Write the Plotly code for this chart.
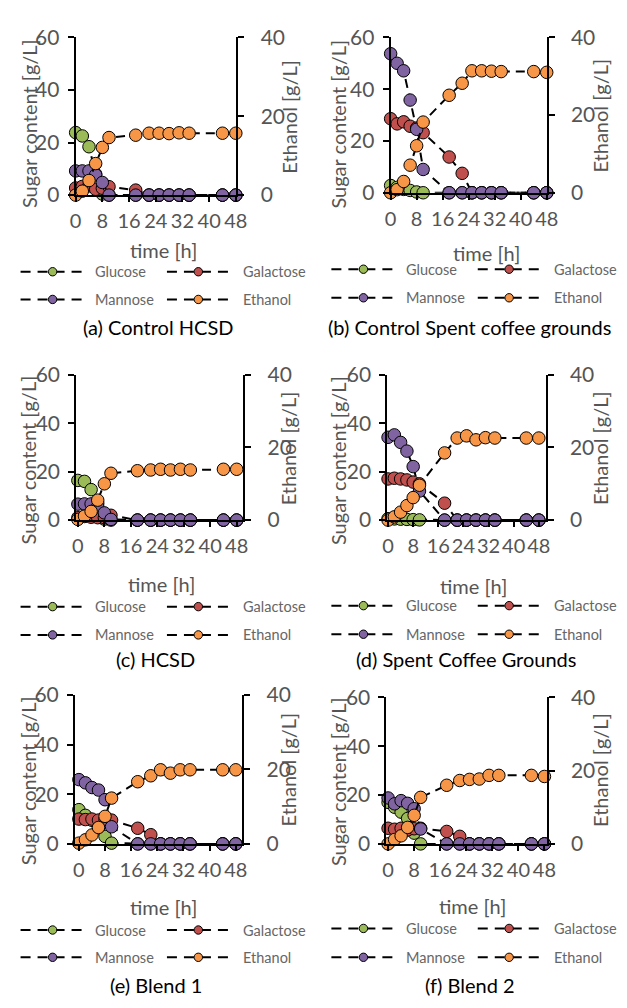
import plotly.graph_objects as go

# ---------------- data ----------------
time_h = [0, 2, 4, 6, 8, 10, 18, 22, 25, 28, 31, 34, 44, 48]

a_glucose   = [23.8, 22.5, 18.4, 8.0, 0.4, 0, 0, 0, 0, 0, 0, 0, 0, 0]
a_galactose = [2.7, 3.3, 3.5, 2.2, 2.6, 3.2, 1.9, 0, 0, 0, 0, 0, 0, 0]
a_mannose   = [9.2, 9.2, 9.2, 7.7, 4.8, 0, 0, 0, 0, 0, 0, 0, 0, 0]
a_ethanol   = [0, 1.0, 3.7, 8.0, 12.1, 14.6, 15.2, 15.7, 15.7, 15.6, 15.8, 15.7, 15.7, 15.7]

b_glucose   = [2.8, 2.1, 1.3, 0.9, 0.3, 0, 0, 0, 0, 0, 0, 0, 0, 0]
b_galactose = [28.6, 26.6, 27.4, 25.7, 25.0, 23.2, 13.8, 7.5, 0, 0, 0, 0, 0, 0]
b_mannose   = [53.7, 50.0, 47.1, 35.8, 24.5, 9.0, 0, 0, 0, 0, 0, 0, 0, 0]
b_ethanol   = [0, 0.8, 2.9, 7.1, 12.1, 18.2, 25.1, 28.2, 31.4, 31.4, 31.3, 31.2, 31.2, 31.0]

c_glucose   = [16.4, 16.0, 12.6, 7.0, 0.4, 0, 0, 0, 0, 0, 0, 0, 0, 0]
c_galactose = [1.0, 1.5, 1.2, 1.0, 1.0, 2.0, 0, 0, 0, 0, 0, 0, 0, 0]
c_mannose   = [6.6, 6.7, 6.7, 5.6, 3.0, 0.3, 0, 0, 0, 0, 0, 0, 0, 0]
c_ethanol   = [0.2, 1.1, 2.4, 5.5, 10.0, 12.9, 13.6, 13.8, 14.0, 13.8, 14.0, 13.8, 14.0, 14.0]

d_glucose   = [0.6, 0.5, 0.4, 0.3, 0.2, 0.1, 0, 0, 0, 0, 0, 0, 0, 0]
d_galactose = [17.0, 17.3, 17.0, 16.6, 15.7, 15.0, 7.0, 0, 0, 0, 0, 0, 0, 0]
d_mannose   = [34.2, 35.2, 32.1, 28.5, 22.1, 12.0, 0, 0, 0, 0, 0, 0, 0, 0]
d_ethanol   = [0, 0.9, 2.2, 4.0, 6.2, 9.6, 18.5, 22.6, 23.2, 22.1, 22.7, 22.6, 22.6, 22.6]

e_glucose   = [13.8, 11.5, 9.5, 6.5, 3.0, 0.3, 0, 0, 0, 0, 0, 0, 0, 0]
e_galactose = [10.0, 9.8, 10.0, 9.6, 9.8, 9.6, 6.3, 3.7, 0, 0, 0, 0, 0, 0]
e_mannose   = [25.9, 24.6, 22.7, 21.7, 17.8, 6.9, 0, 0, 0, 0, 0, 0, 0, 0]
e_ethanol   = [0.2, 1.1, 2.4, 4.4, 7.4, 12.3, 16.7, 18.3, 19.9, 19.0, 19.9, 19.9, 19.9, 19.9]

f_glucose   = [17.0, 15.0, 13.0, 10.4, 4.4, 0, 0, 0, 0, 0, 0, 0, 0, 0]
f_galactose = [6.4, 6.0, 6.4, 5.7, 6.2, 6.4, 5.1, 3.1, 0, 0, 0, 0, 0, 0]
f_mannose   = [18.8, 16.4, 17.7, 16.6, 14.4, 6.1, 0, 0, 0, 0, 0, 0, 0, 0]
f_ethanol   = [0, 1.2, 2.2, 4.5, 7.8, 12.7, 16.0, 17.3, 17.6, 17.7, 18.7, 18.7, 18.7, 18.4]

series_names = ["Glucose", "Galactose", "Mannose", "Ethanol"]
captions = ["(a) Control HCSD", "(b) Control Spent coffee grounds", "(c) HCSD",
            "(d) Spent Coffee Grounds", "(e) Blend 1", "(f) Blend 2"]
x_ticks = [0, 8, 16, 24, 32, 40, 48]
sugar_ticks = [0, 20, 40, 60]
ethanol_ticks = [0, 20, 40]

panel_data = [
    (a_glucose, a_galactose, a_mannose, a_ethanol),
    (b_glucose, b_galactose, b_mannose, b_ethanol),
    (c_glucose, c_galactose, c_mannose, c_ethanol),
    (d_glucose, d_galactose, d_mannose, d_ethanol),
    (e_glucose, e_galactose, e_mannose, e_ethanol),
    (f_glucose, f_galactose, f_mannose, f_ethanol),
]

# ---------------- styling / layout geometry (pixels) ----------------
W, H = 627, 1008
colors = ["#9BBB59", "#C0504D", "#8064A2", "#F79646"]
GRAY = "#555555"
FONT = "Lato"

geom = [
    dict(l=71.7, r=237.3, t=24.0, b=185.7, xr=[0, 48.2],
         sug=(23, 112.5), eth=(291.7, 105), tim=(161.7, 242.3), cap=(156, 321),
         rows=(264.3, 292.7)),
    dict(l=396.0, r=556.7, t=24.0, b=183.3, xr=[0, 48],
         sug=(341.7, 112.5), eth=(611.7, 104), tim=(495, 245), cap=(477.5, 321),
         rows=(261.7, 291.0)),
    dict(l=72.3, r=244.3, t=370.0, b=519.0, xr=[-0.5, 50],
         sug=(23, 457.5), eth=(290.7, 445), tim=(160, 584.3), cap=(154, 661.7),
         rows=(607.7, 636.7)),
    dict(l=392.7, r=555.7, t=370.0, b=519.0, xr=[-0.2, 50.2],
         sug=(341.7, 457.5), eth=(611.7, 445), tim=(481.7, 586.7), cap=(474, 661),
         rows=(606.7, 636.0)),
    dict(l=71.0, r=243.3, t=698.3, b=851.0, xr=[-1.2, 50],
         sug=(22.7, 786.7), eth=(290, 775), tim=(161.7, 916), cap=(154, 996),
         rows=(939.3, 967.3)),
    dict(l=391.7, r=556.7, t=700.7, b=851.0, xr=[-0.5, 48.7],
         sug=(341.7, 786.7), eth=(611.7, 775), tim=(480, 915), cap=(477.5, 996),
         rows=(937.7, 967.3)),
]


def fx(x):
    return x / W


def fy(y):
    return 1 - y / H


fig = go.Figure()
layout = dict(width=W, height=H, autosize=False,
              margin=dict(l=0, r=0, t=0, b=0),
              paper_bgcolor="white", plot_bgcolor="white",
              showlegend=False, font=dict(family=FONT, color=GRAY))
annotations = []
shapes = []

XTICKFONT = dict(size=20, color=GRAY, family=FONT)
YTICKFONT = dict(size=21, color=GRAY, family=FONT)

for k, (g, data) in enumerate(zip(geom, panel_data), start=1):
    xa = f"x{k}"
    yl = f"y{2 * k - 1}"
    yr = f"y{2 * k}"
    xkey = "xaxis" if k == 1 else f"xaxis{k}"
    ylkey = "yaxis" if 2 * k - 1 == 1 else f"yaxis{2 * k - 1}"
    yrkey = f"yaxis{2 * k}"
    dom_x = [fx(g["l"]), fx(g["r"])]
    dom_y = [fy(g["b"]), fy(g["t"])]
    layout[xkey] = dict(domain=dom_x, range=g["xr"], anchor=yl, showline=True,
                        linecolor="black", linewidth=2, ticks="outside", ticklen=5,
                        tickwidth=1.5, tickcolor="black", tickvals=x_ticks,
                        tickangle=0, tickfont=XTICKFONT,
                        ticklabelstandoff=2, showgrid=False, zeroline=False)
    layout[ylkey] = dict(domain=dom_y, range=[0, 60], anchor=xa, showline=True,
                         linecolor="black", linewidth=2, ticks="outside", ticklen=6,
                         tickwidth=1.5, tickcolor="black", tickvals=sugar_ticks,
                         tickfont=YTICKFONT,
                         ticklabelstandoff=4, showgrid=False, zeroline=False)
    layout[yrkey] = dict(domain=dom_y, range=[0, 40], anchor=xa, overlaying=yl,
                         side="right", showline=True, linecolor="black", linewidth=2,
                         ticks="outside", ticklen=6, tickwidth=1.5, tickcolor="black",
                         tickvals=ethanol_ticks, tickfont=YTICKFONT,
                         ticklabelstandoff=12, showgrid=False, zeroline=False)

    for name, vals, col in zip(series_names, data, colors):
        fig.add_trace(go.Scatter(
            x=time_h, y=vals, name=name, mode="lines+markers",
            xaxis=xa, yaxis=(yr if name == "Ethanol" else yl),
            line=dict(color="black", width=2, dash="9px,6px"),
            marker=dict(size=12.5, color=col, line=dict(color="black", width=1)),
            cliponaxis=False, showlegend=False))

    # axis titles
    annotations.append(dict(text="Sugar content [g/L]", x=fx(g["sug"][0]), y=fy(g["sug"][1]),
                            xref="paper", yref="paper", showarrow=False, textangle=-90,
                            xanchor="center", yanchor="middle",
                            font=dict(size=20, color=GRAY, family=FONT)))
    annotations.append(dict(text="Ethanol [g/L]", x=fx(g["eth"][0]), y=fy(g["eth"][1]),
                            xref="paper", yref="paper", showarrow=False, textangle=-90,
                            xanchor="center", yanchor="middle",
                            font=dict(size=20, color=GRAY, family=FONT)))
    annotations.append(dict(text="time [h]", x=fx(g["tim"][0]), y=fy(g["tim"][1]),
                            xref="paper", yref="paper", showarrow=False,
                            xanchor="center", yanchor="middle",
                            font=dict(size=20, color=GRAY, family=FONT)))
    annotations.append(dict(text=captions[k - 1], x=fx(g["cap"][0]), y=fy(g["cap"][1]),
                            xref="paper", yref="paper", showarrow=False,
                            xanchor="center", yanchor="middle",
                            font=dict(size=20, color="black", family=FONT)))

    # custom legend: 2 x 2
    left_panel = g["l"] < 300
    base = 0 if left_panel else 320
    cols_x = [(15 + base, 80 + base, 48 + base, 90 + base),
              (165.7 + base, 230 + base, 198 + base, 242 + base)]
    for i, (name, col) in enumerate(zip(series_names, colors)):
        row, cc = divmod(i, 2)
        yy = g["rows"][row]
        x0, x1, xm, xt = cols_x[cc]
        shapes.append(dict(type="line", xref="paper", yref="paper",
                           x0=fx(x0), x1=fx(x1), y0=fy(yy), y1=fy(yy),
                           line=dict(color="black", width=2, dash="10px,7px")))
        shapes.append(dict(type="circle", xref="paper", yref="paper",
                           xsizemode="pixel", ysizemode="pixel",
                           xanchor=fx(xm), yanchor=fy(yy),
                           x0=-4.2, x1=4.2, y0=-4.2, y1=4.2,
                           fillcolor=col, line=dict(color="black", width=1)))
        annotations.append(dict(text=name, x=fx(xt), y=fy(yy), xref="paper", yref="paper",
                                showarrow=False, xanchor="left", yanchor="middle",
                                font=dict(size=14.5, color="#666666", family=FONT)))

layout["annotations"] = annotations
layout["shapes"] = shapes
fig.update_layout(**layout)
fig.write_html("out.html")
